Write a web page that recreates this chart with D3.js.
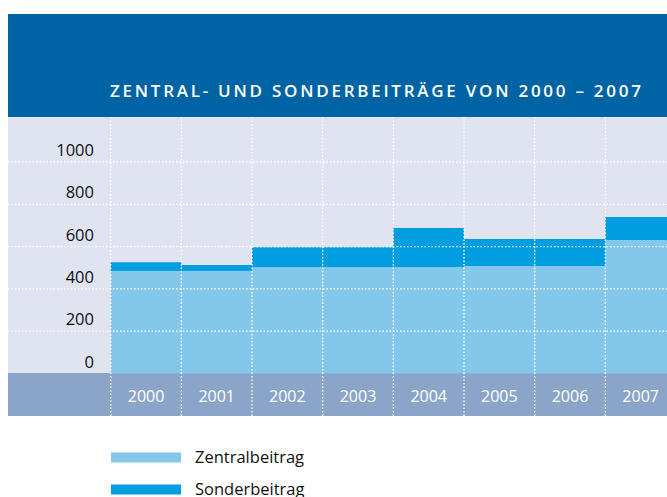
<!DOCTYPE html>
<html>
<head>
<meta charset="utf-8">
<script src="https://cdn.jsdelivr.net/npm/d3@7"></script>
<style>
  body { margin: 0; background: #fff; }
  svg { display: block; font-family: "Open Sans", "Noto Sans", sans-serif; }
</style>
</head>
<body>
<div id="chart"></div>
<script>
// data
var years = ["2000", "2001", "2002", "2003", "2004", "2005", "2006", "2007"];
var zentral = [485, 485, 503, 503, 503, 508, 508, 631];
var sonder = [41, 28, 94, 94, 185, 128, 128, 109];
var yTicks = [0, 200, 400, 600, 800, 1000];
var seriesNames = ["Zentralbeitrag", "Sonderbeitrag"];
var seriesColors = ["#83c8eb", "#009ee0"];

var width = 667, height = 497;

var svg = d3.select("#chart").append("svg")
  .attr("width", width)
  .attr("height", height);

// title banner
svg.append("rect")
  .attr("x", 8).attr("y", 14)
  .attr("width", width - 8).attr("height", 103)
  .attr("fill", "#0063a3");

svg.append("text")
  .attr("x", 110).attr("y", 97)
  .attr("fill", "#fff")
  .attr("font-size", 17)
  .attr("font-weight", 600)
  .attr("textLength", 531)
  .attr("lengthAdjust", "spacing")
  .text("ZENTRAL- UND SONDERBEITRÄGE VON 2000 – 2007");

// plot background + x band
svg.append("rect")
  .attr("x", 8).attr("y", 117)
  .attr("width", width - 8).attr("height", 256)
  .attr("fill", "#e0e3f0");

svg.append("rect")
  .attr("x", 8).attr("y", 373)
  .attr("width", width - 8).attr("height", 43)
  .attr("fill", "#8ba5c9");

// scales
var x = d3.scaleBand().domain(years).range([110.7, 676]).padding(0);
var y = d3.scaleLinear().domain([0, 1000]).range([373.5, 162]);

// stacked bars
var rows = years.map(function (d, i) {
  return { year: d, Zentralbeitrag: zentral[i], Sonderbeitrag: sonder[i] };
});
var stacked = d3.stack().keys(seriesNames)(rows);

svg.append("g").selectAll("g")
  .data(stacked)
  .enter().append("g")
  .attr("fill", function (d, i) { return seriesColors[i]; })
  .selectAll("rect")
  .data(function (d) { return d; })
  .enter().append("rect")
  .attr("x", function (d) { return x(d.data.year); })
  .attr("y", function (d) { return y(d[1]); })
  .attr("width", x.bandwidth())
  .attr("height", function (d) { return y(d[0]) - y(d[1]); });

// dotted grid on top
var grid = svg.append("g")
  .attr("stroke", "#fff")
  .attr("stroke-width", 1.3)
  .attr("stroke-dasharray", "1.5,2");

grid.selectAll(".h")
  .data(yTicks.filter(function (d) { return d > 0; }))
  .enter().append("line")
  .attr("x1", 8).attr("x2", width)
  .attr("y1", function (d) { return y(d); })
  .attr("y2", function (d) { return y(d); });

grid.selectAll(".v")
  .data(years)
  .enter().append("line")
  .attr("x1", function (d) { return x(d); })
  .attr("x2", function (d) { return x(d); })
  .attr("y1", 117).attr("y2", 416);

// y labels
svg.append("g").selectAll("text")
  .data(yTicks)
  .enter().append("text")
  .attr("x", 94)
  .attr("y", function (d) { return y(d) - 6; })
  .attr("text-anchor", "end")
  .attr("font-size", 16.5)
  .attr("fill", "#111")
  .text(function (d) { return d; });

// x labels
svg.append("g").selectAll("text")
  .data(years)
  .enter().append("text")
  .attr("x", function (d) { return x(d) + x.bandwidth() / 2; })
  .attr("y", 402)
  .attr("text-anchor", "middle")
  .attr("font-size", 16)
  .attr("fill", "#fff")
  .text(function (d) { return d; });

// legend
var legend = svg.append("g").selectAll("g")
  .data(seriesNames)
  .enter().append("g")
  .attr("transform", function (d, i) { return "translate(111," + (452.5 + i * 32) + ")"; });

legend.append("rect")
  .attr("width", 70).attr("height", 10)
  .attr("fill", function (d, i) { return seriesColors[i]; });

legend.append("text")
  .attr("x", 84).attr("y", 10.5)
  .attr("font-size", 16.5)
  .attr("fill", "#111")
  .text(function (d) { return d; });
</script>
</body>
</html>
